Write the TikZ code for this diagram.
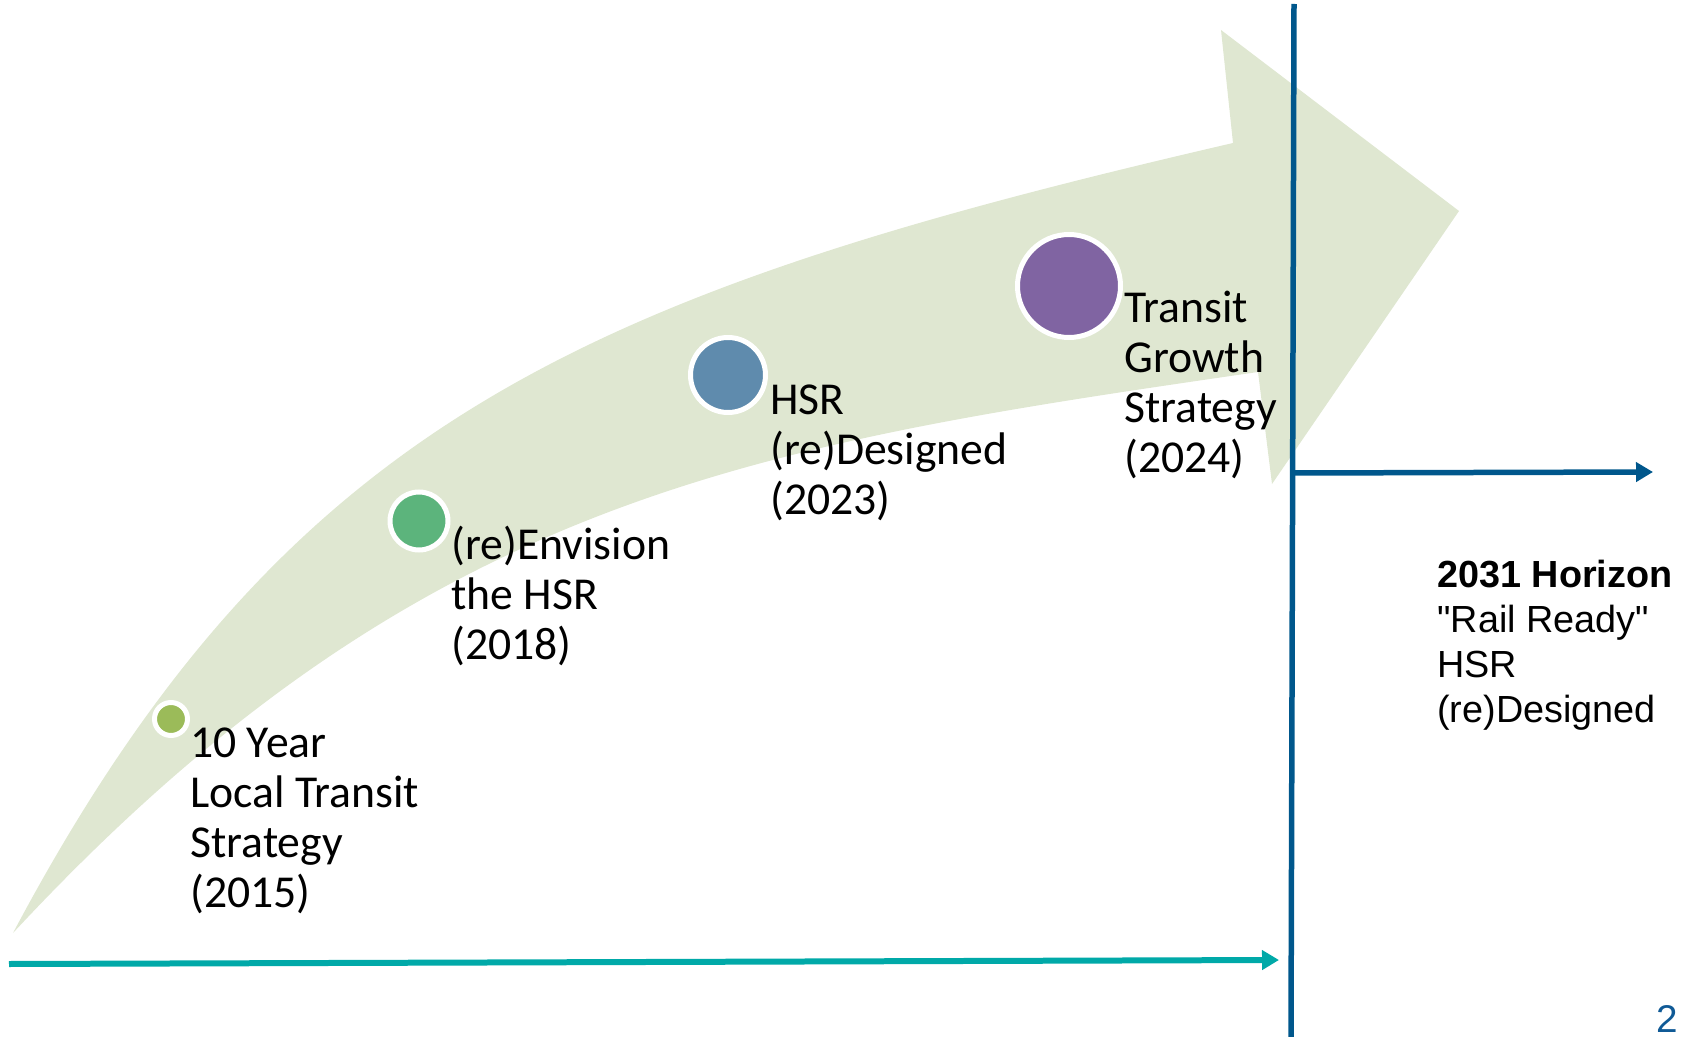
\documentclass[tikz,border=0pt]{standalone}
\usepackage{fontspec}
\usetikzlibrary{arrows.meta}
\newfontfamily\carlito{Carlito}
\newfontfamily\arial{Liberation Sans}
\definecolor{bandgreen}{RGB}{223,231,209}
\definecolor{dotA}{RGB}{155,187,89}
\definecolor{dotB}{RGB}{92,180,124}
\definecolor{dotC}{RGB}{95,139,173}
\definecolor{dotD}{RGB}{128,100,162}
\definecolor{lineblue}{RGB}{0,87,140}
\definecolor{lineteal}{RGB}{0,169,168}
\definecolor{pageblue}{RGB}{16,90,150}

\begin{document}
\begin{tikzpicture}[x=0.02cm,y=-0.02cm]
    \tikzstyle{vertex}=[circle,draw=white,line width=0.1cm,inner sep=0pt]
    \tikzstyle{stage}=[anchor=base west,align=left,inner sep=0pt,font=\carlito\fontsize{26pt}{28.45pt}\selectfont]
    \tikzstyle{axis}=[line width=0.12cm,-{Triangle[length=0.34cm,width=0.38cm]}]
    \useasboundingbox (0,0) rectangle (1691,1037);

    % curved arrow behind the stages
    \fill[bandgreen] (13,933) .. controls (285,421) and (585,293) .. (1233,143)
        -- (1221,30) -- (1459,211) -- (1272,484) -- (1258,372)
        .. controls (756,445) and (421,494) .. (13,933) -- cycle;

    % time line and horizon
    \coordinate (T-start) at (9,964);
    \coordinate (T-end) at (1279,960);
    \coordinate (H-top) at (1294,4);
    \coordinate (H-bot) at (1291,1037);
    \coordinate (H-mid) at (1293,473);
    \coordinate (H-end) at (1653,472);
    \draw[axis,lineteal] (T-start) -- (T-end);
    \draw[lineblue,line width=0.11cm] (H-top) -- (H-bot);
    \draw[axis,lineblue,line width=0.11cm] (H-mid) -- (H-end);

    \foreach \num/\x/\y/\d/\col/\tx/\ty/\txt in {
        1/171/719/33/dotA/190/907/{10 Year\\Local Transit\\Strategy\\(2015)},
        2/419/521/58/dotB/451/659/{(re)Envision\\the HSR\\(2018)},
        3/728/375/75/dotC/770/514/{HSR\\(re)Designed\\(2023)},
        4/1069/286/103/dotD/1124/472/{Transit\\Growth\\Strategy\\(2024)}}
    {
        \node[vertex,fill=\col,minimum size=\d*0.02cm] (V-\num) at (\x,\y) {};
        \node[stage] (L-\num) at (\tx,\ty) {\txt};
    }

    \node[anchor=base west,align=left,inner sep=0pt,font=\arial\fontsize{21.5pt}{25.6pt}\selectfont] (horizon) at (1437,722)
        {\textbf{2031 Horizon}\\"Rail Ready"\\HSR\\(re)Designed};
    \node[anchor=base,inner sep=0pt,text=pageblue,font=\arial\fontsize{22pt}{26pt}\selectfont] (page) at (1667,1032) {2};
\end{tikzpicture}
\end{document}
